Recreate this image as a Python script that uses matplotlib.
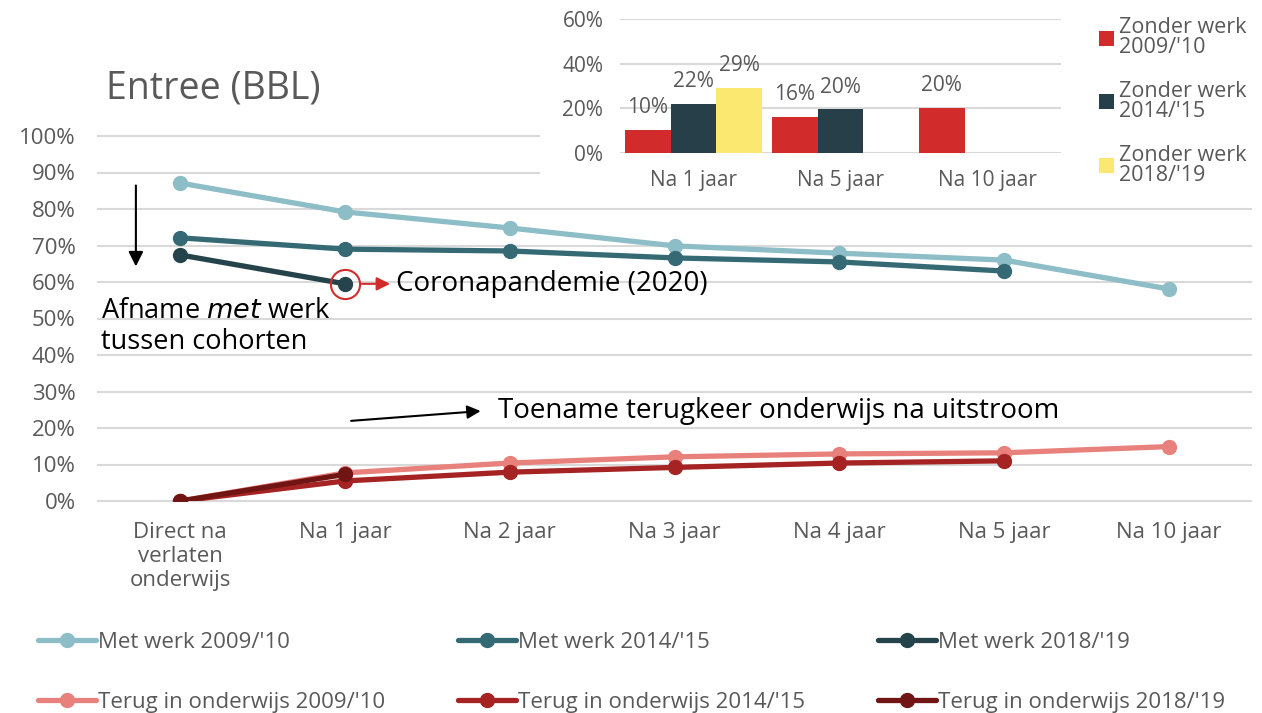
import matplotlib.pyplot as plt
from matplotlib.patches import Rectangle

plt.rcParams['font.family'] = ['Open Sans', 'DejaVu Sans']

# main chart data (fractions)
categories = ["Direct na\nverlaten\nonderwijs", "Na 1 jaar", "Na 2 jaar", "Na 3 jaar",
              "Na 4 jaar", "Na 5 jaar", "Na 10 jaar"]
met_0910 = [0.871, 0.792, 0.748, 0.699, 0.679, 0.660, 0.581]
met_1415 = [0.721, 0.690, 0.685, 0.666, 0.655, 0.630]
met_1819 = [0.674, 0.595]
terug_0910 = [0.0, 0.077, 0.104, 0.121, 0.129, 0.132, 0.149]
terug_1415 = [0.0, 0.055, 0.079, 0.092, 0.104, 0.110]
terug_1819 = [0.0, 0.073]

# inset data
inset_cats = ["Na 1 jaar", "Na 5 jaar", "Na 10 jaar"]
zonder_0910 = [0.103, 0.162, 0.202]
zonder_1415 = [0.220, 0.195]
zonder_1819 = [0.292]

grey = "#595959"
grid = "#d9d9d9"

fig = plt.figure(figsize=(12.62, 7.13), dpi=100)

ax = fig.add_axes([98 / 1262, 1 - 501 / 713, 1153 / 1262, 365 / 713])
ax.set_zorder(0)

series = [
    (met_0910, "Met werk 2009/'10", "#8dbdc6"),
    (met_1415, "Met werk 2014/'15", "#356a74"),
    (met_1819, "Met werk 2018/'19", "#25434b"),
    (terug_0910, "Terug in onderwijs 2009/'10", "#e8807c"),
    (terug_1415, "Terug in onderwijs 2014/'15", "#a52322"),
    (terug_1819, "Terug in onderwijs 2018/'19", "#701514"),
]
handles = []
for vals, lab, col in series:
    h, = ax.plot(range(len(vals)), vals, color=col, lw=3.8, marker="o", ms=10,
                 label=lab, solid_capstyle="round")
    handles.append(h)

ax.set_xlim(-0.5, len(categories) - 0.5)
ax.set_ylim(0, 1.0)
ax.set_yticks([i / 10 for i in range(11)])
ax.set_yticklabels([f"{i * 10}%" for i in range(11)], fontsize=16, color=grey)
ax.set_xticks(range(len(categories)))
ax.set_xticklabels(categories, fontsize=16, color=grey, linespacing=1.2)
ax.tick_params(length=0)
ax.tick_params(axis="x", pad=15)
ax.tick_params(axis="y", pad=16)
ax.grid(axis="y", color=grid, lw=1.5)
ax.set_axisbelow(True)
for s in ax.spines.values():
    s.set_visible(False)
for l in ax.get_ygridlines():
    l.set_clip_on(False)

# annotations
ax.annotate("", xy=(-0.27, 0.635), xytext=(-0.27, 0.872),
            arrowprops=dict(arrowstyle="-|>", color="black", lw=1.5, mutation_scale=22))
ax.text(-0.48, 0.558, "Afname $\\it{met}$ werk\ntussen cohorten", fontsize=19.5,
        va="top", ha="left", linespacing=1.12)
ax.plot([1], [met_1819[1]], marker="o", ms=21, mfc="none", mec="#d22b2b", mew=1.5)
ax.annotate("", xy=(1.29, met_1819[1]), xytext=(1.085, met_1819[1]),
            arrowprops=dict(arrowstyle="-|>", color="#d22b2b", lw=1.5, mutation_scale=20))
ax.text(1.31, met_1819[1], "Coronapandemie (2020)", fontsize=20, va="center", ha="left")
ax.annotate("", xy=(1.84, 0.247), xytext=(1.02, 0.219),
            arrowprops=dict(arrowstyle="-|>", color="black", lw=1.5, mutation_scale=20))
ax.text(1.93, 0.247, "Toename terugkeer onderwijs na uitstroom", fontsize=20,
        va="center", ha="left")

fig.text(106 / 1262, 1 - 89 / 713, "Entree (BBL)", fontsize=27, color=grey, va="center")

# white backdrop for the inset
fig.patches.append(Rectangle((540 / 1262, 1 - 195 / 713), 722 / 1262, 195 / 713,
                             transform=fig.transFigure, facecolor="white",
                             edgecolor="none", zorder=1))

axi = fig.add_axes([620 / 1262, 1 - 153 / 713, 441 / 1262, 134 / 713])
axi.set_zorder(2)
w = 0.31
bars = [
    (zonder_0910, -w, "#d22b2b", "Zonder werk\n2009/'10"),
    (zonder_1415, 0, "#263f48", "Zonder werk\n2014/'15"),
    (zonder_1819, w, "#fbe870", "Zonder werk\n2018/'19"),
]
bar_handles = []
for vals, off, col, lab in bars:
    b = axi.bar([i + off for i in range(len(vals))], vals, width=w, color=col, label=lab)
    bar_handles.append(b)
    for i, v in enumerate(vals):
        axi.annotate(f"{v * 100:.0f}%", (i + off, v), xytext=(0, 16),
                     textcoords="offset points", ha="center", va="center",
                     fontsize=15, color=grey)
axi.set_xlim(-0.5, 2.5)
axi.set_ylim(0, 0.6)
axi.set_yticks([0, 0.2, 0.4, 0.6])
axi.set_yticklabels(["0%", "20%", "40%", "60%"], fontsize=15, color=grey)
axi.set_xticks(range(len(inset_cats)))
axi.set_xticklabels(inset_cats, fontsize=15, color=grey)
axi.tick_params(length=0)
axi.tick_params(axis="x", pad=12)
axi.tick_params(axis="y", pad=12)
axi.grid(axis="y", color=grid, lw=1.5)
axi.set_axisbelow(True)
for s in axi.spines.values():
    s.set_visible(False)
axi.patch.set_visible(False)

leg = fig.legend(handles=bar_handles, loc="upper left",
                 bbox_to_anchor=(1099 / 1262, 1 - 17 / 713),
                 frameon=False, fontsize=15.5, handlelength=0.7, handleheight=0.7,
                 handletextpad=0.25, labelspacing=1.05, labelcolor=grey, borderaxespad=0,
                 borderpad=0)
for t in leg.get_texts():
    t.set_linespacing(0.95)

# bottom legend: three columns, two rows
col_x = [38, 458, 878]
for c, x in enumerate(col_x):
    fig.legend(handles=[handles[c], handles[c + 3]], loc="upper left",
               bbox_to_anchor=(x / 1262, 1 - 632 / 713), frameon=False, fontsize=16,
               handlelength=2.6, handletextpad=0.1, labelspacing=1.75,
               labelcolor=grey, borderaxespad=0, borderpad=0)

fig.savefig("out.png", dpi=100)
